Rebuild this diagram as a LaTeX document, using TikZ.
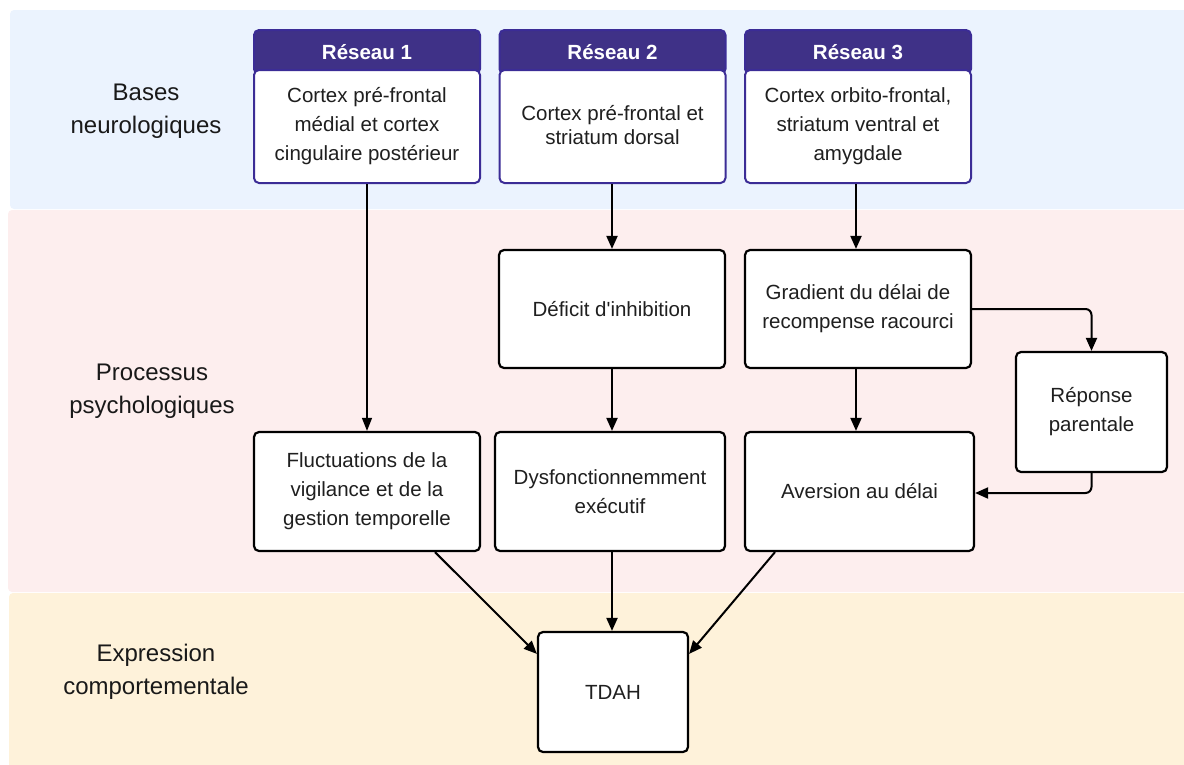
\documentclass[tikz,border=0pt]{standalone}
\usepackage{fontspec}
\setmainfont{Liberation Sans}
\usetikzlibrary{arrows.meta,calc}
\definecolor{bandblue}{HTML}{EBF3FE}
\definecolor{bandpink}{HTML}{FDEEEE}
\definecolor{bandyellow}{HTML}{FEF2DA}
\definecolor{hdrpurple}{HTML}{3F3187}
\definecolor{rborder}{HTML}{3B2C96}
\begin{document}
\begin{tikzpicture}[x=1pt,y=-1pt,
  boxtext/.style={font=\fontsize{20.5}{29}\selectfont, align=center, text=black!88},
  procbox/.style={boxtext, draw=black, line width=2.2pt, rounded corners=5pt, fill=white, inner sep=0pt},
  netbody/.style={boxtext, draw=rborder, line width=2pt, rounded corners=5pt, fill=white, inner sep=0pt, minimum width=226pt, minimum height=113pt},
  nethead/.style={draw=rborder, line width=2pt, rounded corners=5pt, fill=hdrpurple, text=white, font=\fontsize{20.5}{24}\selectfont\bfseries, inner sep=0pt, minimum width=226pt, minimum height=44pt},
  rowlabel/.style={font=\fontsize{24}{32.5}\selectfont, align=center, text=black!90},
  arr/.style={line width=2pt, -{Triangle[length=13pt,width=11pt]}},
  thinarr/.style={line width=1.2pt, -{Triangle[length=13pt,width=10pt]}}
]
\useasboundingbox (0,0) rectangle (1184,764);
% bands
\fill[bandblue, rounded corners=4pt] (10,10) rectangle (1200,209);
\fill[bandpink, rounded corners=4pt] (8,210) rectangle (1200,592);
\fill[bandyellow, rounded corners=4pt] (9,593) rectangle (1200,780);

% row labels
\node[rowlabel] (lb1) at (146,111) {Bases\\neurologiques};
\node[rowlabel] (lb2) at (152,391) {Processus\\psychologiques};
\node[rowlabel] (lb3) at (156,672) {Expression\\comportementale};

% network headers and bodies
\node[nethead] (h1) at (367,52) {Réseau 1};
\node[nethead] (h2) at (612.5,52) {Réseau 2};
\node[nethead] (h3) at (858,52) {Réseau 3};
\node[netbody] (r1) at (367,126.5) {Cortex pré-frontal\\médial et cortex\\cingulaire postérieur};
\node[netbody] (r2) at (612.5,126.5) {\raisebox{3pt}{\shortstack{Cortex pré-frontal et\\[2pt]striatum dorsal}}};
\node[netbody] (r3) at (858,126.5) {Cortex orbito-frontal,\\striatum ventral et\\amygdale};

% process boxes
\node[procbox, minimum width=226pt, minimum height=118pt] (def) at (612,309) {Déficit d\textquotesingle inhibition};
\node[procbox, minimum width=226pt, minimum height=118pt] (grad) at (858,309) {Gradient du délai de\\recompense racourci};
\node[procbox, minimum width=151pt, minimum height=120pt] (rep) at (1091.5,412) {Réponse\\parentale};
\node[procbox, minimum width=226pt, minimum height=119pt] (fluc) at (367,491.5) {Fluctuations de la\\vigilance et de la\\gestion temporelle};
\node[procbox, minimum width=230pt, minimum height=119pt] (dys) at (610,491.5) {Dysfonctionnemment\\exécutif};
\node[procbox, minimum width=229pt, minimum height=119pt] (av) at (859.5,491.5) {Aversion au délai};
\node[procbox, minimum width=150pt, minimum height=120pt] (tdah) at (613,692) {TDAH};

% connectors
\draw[thinarr] (r1.south) -- (fluc.north);
\draw[arr] (r2.south -| def.north) -- (def.north);
\draw[arr] ([xshift=-2pt]r3.south) -- ([xshift=-2pt]grad.north);
\draw[arr] (def.south) -- (def.south |- dys.north);
\draw[arr] ([xshift=-2pt]grad.south) -- ([xshift=-2pt]grad.south |- av.north);
\draw[arr, rounded corners=6pt] (grad.east) -| (rep.north);
\draw[arr, rounded corners=6pt] (rep.south) |- ([yshift=-1.5pt]av.east);
\draw[arr] ([xshift=68pt]fluc.south) -- ([yshift=-23pt]tdah.north west);
\draw[arr] (def.south |- dys.south) -- (def.south |- tdah.north);
\draw[arr] ([xshift=-84.5pt]av.south) -- ([yshift=-23pt]tdah.north east);
\end{tikzpicture}
\end{document}
